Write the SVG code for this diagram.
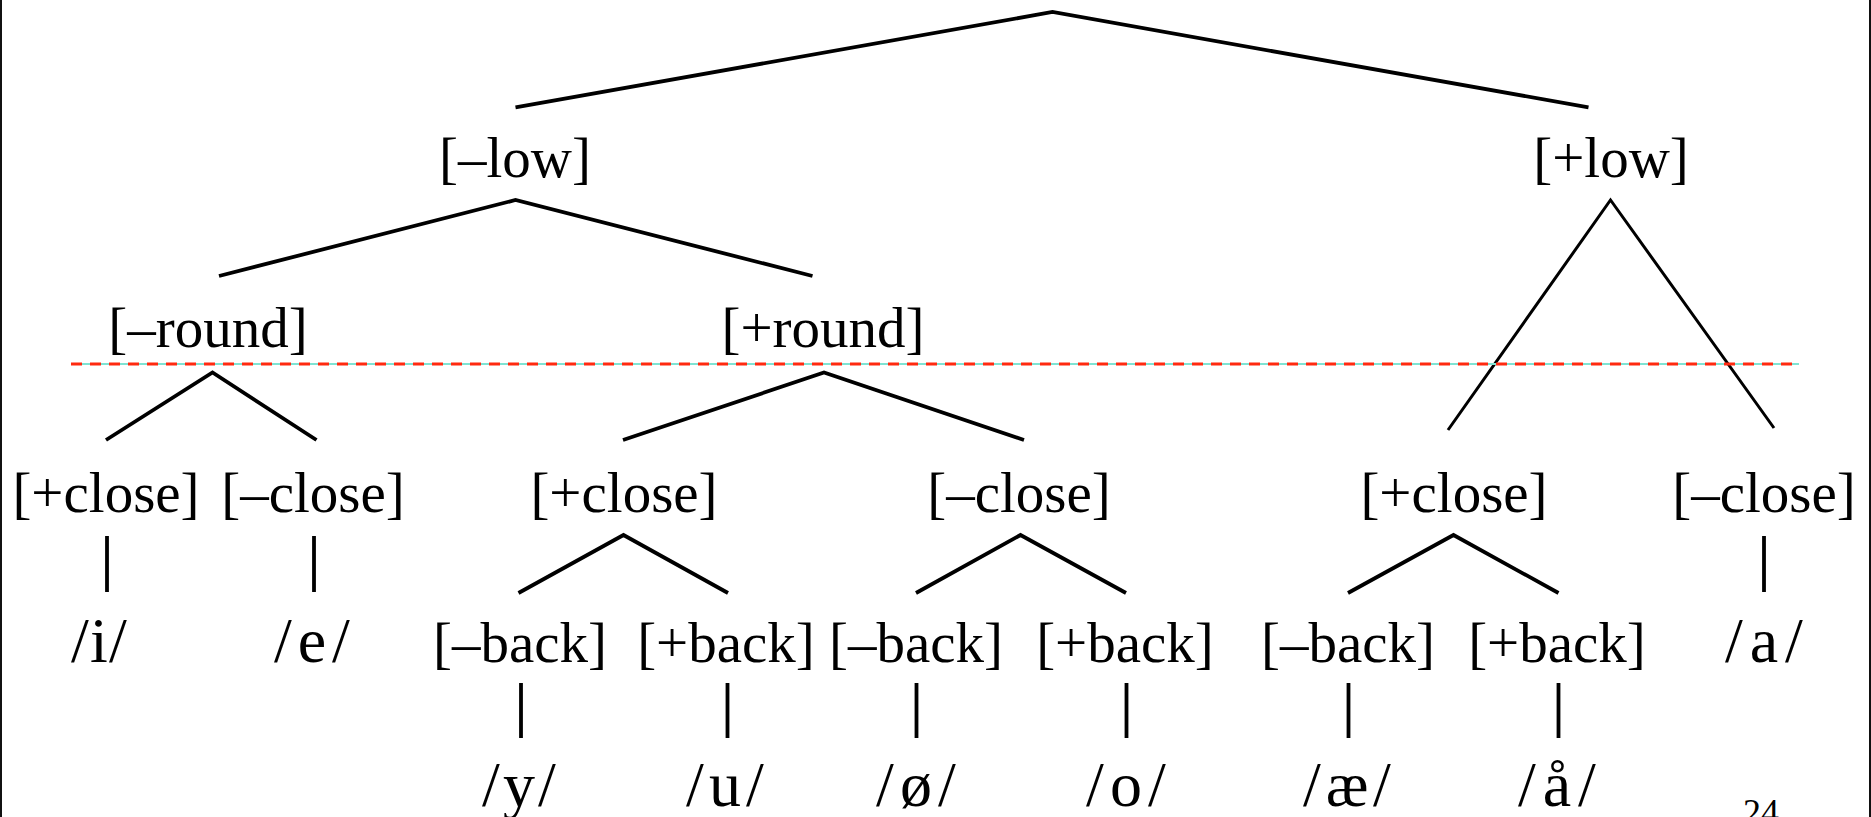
<svg xmlns="http://www.w3.org/2000/svg" width="1871" height="817" viewBox="0 0 1871 817">
<style>
.lbl{font-family:"Liberation Serif","Times New Roman",serif;font-size:57px;fill:#000;text-anchor:middle}
.ph{font-family:"Liberation Serif","Times New Roman",serif;font-size:64px;fill:#000;text-anchor:middle}
.edge{stroke:#000;stroke-width:3.8;fill:none;stroke-linecap:butt;stroke-linejoin:miter}
.thin{stroke:#000;stroke-width:3;fill:none}
.frame{stroke:#111;stroke-width:2}
</style>
<rect x="0" y="0" width="1871" height="817" fill="#fff"/>
<line class="frame" x1="1" y1="0" x2="1" y2="817"/>
<line class="frame" x1="1870" y1="0" x2="1870" y2="817"/>
<g id="connectors">
<polyline class="edge" points="515.5,107.4 1052.5,12 1588.5,107.4"/>
<polyline class="edge" points="219,276 515.5,200 812.5,276"/>
<polyline class="thin" points="1448,430 1610.5,200 1774,428"/>
<polyline class="edge" points="106,440 212.5,372.5 316.5,440"/>
<polyline class="edge" points="623,440 824,372.5 1024,440"/>
<line class="edge" x1="107" y1="536" x2="107" y2="592"/>
<line class="edge" x1="314" y1="536" x2="314" y2="592"/>
<line class="edge" x1="1764" y1="536" x2="1764" y2="592"/>
<polyline class="edge" points="518.5,593 623.5,535 728,593"/>
<polyline class="edge" points="916,593 1020.5,535 1126,593"/>
<polyline class="edge" points="1348,593 1453.5,535 1558.5,593"/>
<line class="edge" x1="521" y1="683" x2="521" y2="738"/>
<line class="edge" x1="727.5" y1="683" x2="727.5" y2="738"/>
<line class="edge" x1="916.5" y1="683" x2="916.5" y2="738"/>
<line class="edge" x1="1126.5" y1="683" x2="1126.5" y2="738"/>
<line class="edge" x1="1348.5" y1="683" x2="1348.5" y2="738"/>
<line class="edge" x1="1558.5" y1="683" x2="1558.5" y2="738"/>
</g>
<g id="divider">
<line x1="71" y1="364" x2="1799" y2="364" stroke="#7fe3d3" stroke-width="2.2"/>
<line x1="71" y1="364" x2="1799" y2="364" stroke="#ff2a10" stroke-width="3" stroke-dasharray="11 8"/>
</g>
<g id="n-minus-low"><text class="lbl" x="515" y="177">[–low]</text></g>
<g id="n-plus-low"><text class="lbl" x="1611" y="177">[+low]</text></g>
<g id="n-minus-round"><text class="lbl" x="208" y="347">[–round]</text></g>
<g id="n-plus-round"><text class="lbl" x="823" y="347">[+round]</text></g>
<g id="n-close1"><text class="lbl" x="106" y="512">[+close]</text></g>
<g id="n-close2"><text class="lbl" x="313" y="512">[–close]</text></g>
<g id="n-close3"><text class="lbl" x="624" y="512">[+close]</text></g>
<g id="n-close4"><text class="lbl" x="1019" y="512">[–close]</text></g>
<g id="n-close5"><text class="lbl" x="1454" y="512">[+close]</text></g>
<g id="n-close6"><text class="lbl" x="1764" y="512">[–close]</text></g>
<g id="n-back1"><text class="lbl" x="520" y="662">[–back]</text></g>
<g id="n-back2"><text class="lbl" x="726" y="662">[+back]</text></g>
<g id="n-back3"><text class="lbl" x="916" y="662">[–back]</text></g>
<g id="n-back4"><text class="lbl" x="1125" y="662">[+back]</text></g>
<g id="n-back5"><text class="lbl" x="1348" y="662">[–back]</text></g>
<g id="n-back6"><text class="lbl" x="1557" y="662">[+back]</text></g>
<g id="p-i"><text class="ph" x="80 99 118" y="662">/i/</text></g>
<g id="p-e"><text class="ph" x="283 312 341" y="662">/e/</text></g>
<g id="p-a"><text class="ph" x="1734 1764 1794" y="662">/a/</text></g>
<g id="p-y"><text class="ph" x="491 519 547" y="806">/y/</text></g>
<g id="p-u"><text class="ph" x="695 725 755" y="806">/u/</text></g>
<g id="p-oe"><text class="ph" x="885 916 947" y="806">/ø/</text></g>
<g id="p-o"><text class="ph" x="1095 1126 1157" y="806">/o/</text></g>
<g id="p-ae"><text class="ph" x="1312 1347 1382" y="806">/æ/</text></g>
<g id="p-aa"><text class="ph" x="1527 1557 1587" y="806">/å/</text></g>
<text x="1743" y="824" font-family="Liberation Serif, serif" font-size="36" fill="#000">24</text>
</svg>
